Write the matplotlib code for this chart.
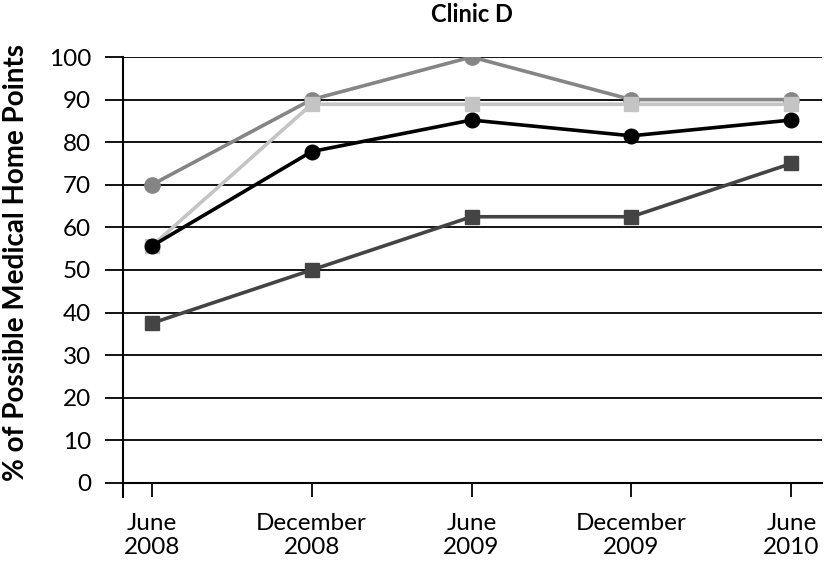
import matplotlib
matplotlib.use("Agg")
import matplotlib.pyplot as plt

plt.rcParams['font.family'] = ['Lato', 'DejaVu Sans']

periods = ["June\n2008", "December\n2008", "June\n2009", "December\n2009", "June\n2010"]

# four series
mid_circles = [70, 90, 100, 90, 90]
light_squares = [55.6, 88.9, 88.9, 88.9, 88.9]
black_circles = [55.6, 77.8, 85.2, 81.5, 85.2]
dark_squares = [37.5, 50, 62.5, 62.5, 75]

x = list(range(len(periods)))

fig = plt.figure(figsize=(8.25, 5.7), dpi=100)
ax = fig.add_axes([0.149, 0.128, 0.847, 0.772])

for v in range(0, 101, 10):
    ax.axhline(v, color='black', lw=1.3, zorder=1)

ax.plot(x, mid_circles, color='#858585', lw=2.6, marker='o', ms=11, zorder=3)
ax.plot(x, light_squares, color='#c4c4c4', lw=2.6, marker='s', ms=10.5, zorder=4)
ax.plot(x, black_circles, color='black', lw=2.6, marker='o', ms=10.5, zorder=5)
ax.plot(x, dark_squares, color='#444444', lw=2.6, marker='s', ms=10, zorder=5)

ax.set_xlim(-0.18, 4.19)
ax.set_ylim(-3.3, 100)
ax.set_yticks(range(0, 101, 10))
ax.set_xticks(x)
ax.set_xticklabels(periods, linespacing=1.1)
ax.tick_params(axis='y', labelsize=17.5, length=13, width=1.3, pad=10)
ax.tick_params(axis='x', labelsize=17.5, length=10, width=1.3, pad=11.5)

ax.spines['top'].set_visible(False)
ax.spines['right'].set_visible(False)
ax.spines['bottom'].set_position(('data', 0))
ax.spines['bottom'].set_linewidth(1.5)
ax.spines['left'].set_linewidth(1.5)

ax.set_ylabel('% of Possible Medical Home Points', fontsize=20, fontweight='bold')
ax.yaxis.set_label_coords(-0.134, 0.534)
fig.text(0.572, 0.975, 'Clinic D', fontsize=17, fontweight='bold', ha='center', va='center')

fig.savefig('out.png', dpi=100)
